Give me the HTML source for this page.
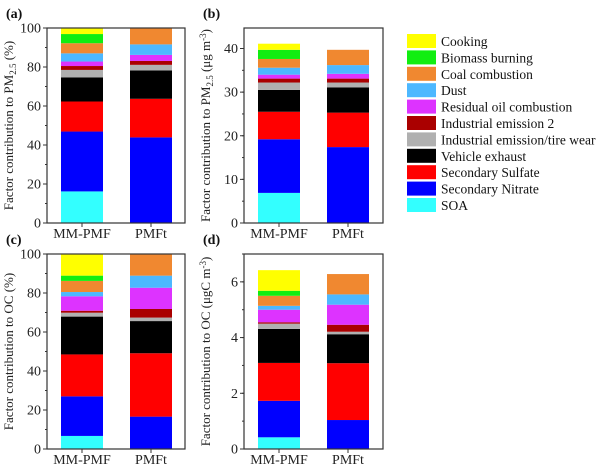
<!DOCTYPE html>
<html><head><meta charset="utf-8"><style>
body{margin:0;background:#fff;}
svg{display:block;font-family:"Liberation Serif",serif;}
</style></head><body>
<svg id="chart" width="600" height="471" xmlns="http://www.w3.org/2000/svg"></svg>
<script>
const categories = ["MM-PMF","PMFt"];
const factors = ["SOA","Secondary Nitrate","Secondary Sulfate","Vehicle exhaust","Industrial emission/tire wear","Industrial emission 2","Residual oil combustion","Dust","Coal combustion","Biomass burning","Cooking"];
const colors = ["#33ffff","#0000ff","#ff0000","#000000","#b0b0b0","#aa0000","#dd33ff","#4db8ff","#f08830","#11ee11","#ffff00"];
const aMM = [16.2,30.7,15.4,12.4,3.8,2.0,2.3,4.2,5.2,4.7,3.1];
const aPMFt = [0,43.9,19.8,14.5,2.9,2.0,3.1,5.4,8.4,0,0];
const bMM = [6.9,12.3,6.3,5.0,1.7,0.9,0.9,1.6,2.0,2.1,1.4];
const bPMFt = [0,17.4,7.9,5.8,1.1,0.9,1.1,2.0,3.5,0,0];
const cMM = [6.7,20.3,21.5,19.4,2.0,1.0,7.4,2.2,5.7,2.7,11.1];
const cPMFt = [0,16.6,32.5,16.5,1.8,4.4,10.9,6.2,11.1,0,0];
const dMM = [0.42,1.31,1.36,1.22,0.19,0.05,0.45,0.14,0.36,0.18,0.74];
const dPMFt = [0,1.04,2.04,1.04,0.09,0.25,0.72,0.37,0.73,0,0];
const ticksA = [0,20,40,60,80,100];
const ticksB = [0,10,20,30,40];
const ticksD = [0,2,4,6];

const NS="http://www.w3.org/2000/svg";
const svg=document.getElementById('chart');
function mk(tag,attrs,parent){const e=document.createElementNS(NS,tag);for(const k in attrs)e.setAttribute(k,attrs[k]);(parent||svg).appendChild(e);return e;}

function panel(id,label,x0,x1,yTop,yBot,ymax,ticks,minorStep,series,titleHTML){
  const g=mk('g',{});
  
  
  const y=v=>yBot-(v/ymax)*(yBot-yTop);
  const bx=[x0+14,x0+83], bw=42;
  series.forEach((vals,ci)=>{
    let acc=0;
    vals.forEach((v,fi)=>{
      if(v<=0)return;
      const r=mk('rect',{x:bx[ci],y:y(acc+v),width:bw,height:y(acc)-y(acc+v),fill:colors[fi]},g);
      
      
      acc+=v;
    });
  });
  const fr=mk('rect',{x:x0,y:yTop,width:x1-x0,height:yBot-yTop,fill:'none',stroke:'#333','stroke-width':1.2},g);
  
  
  for(let v=0;v<=ymax+1e-9;v+=minorStep){mk('line',{x1:x0-2,x2:x0,y1:y(v),y2:y(v),stroke:'#333'},g);}
  ticks.forEach(t=>{
    mk('line',{x1:x0-4,x2:x0,y1:y(t),y2:y(t),stroke:'#333'},g);
    const tx=mk('text',{x:x0-6,y:y(t)+4.5,'text-anchor':'end','font-size':14,fill:'#222'},g);
    tx.textContent=t;
    
    
  });
  categories.forEach((c,ci)=>{
    const cx=bx[ci]+bw/2;
    mk('line',{x1:cx,x2:cx,y1:yBot,y2:yBot+4,stroke:'#333'},g);
    const tx=mk('text',{x:cx,y:yBot+15,'text-anchor':'middle','font-size':14,fill:'#222'},g);
    tx.textContent=c;
    
    
  });
  const t=mk('text',{transform:`translate(${x0-34},${(yTop+yBot)/2}) rotate(-90)`,'text-anchor':'middle','font-size':13,fill:'#222'},g);
  t.innerHTML=titleHTML;
  
  
  const pl=mk('text',{x:x0-41,y:yTop-10,'font-size':14,'font-weight':'bold',fill:'#111'},g);
  pl.textContent=label;
  
  
}
panel('a','(a)',47,185,28,223,100,ticksA,10,[aMM,aPMFt],'Factor contribution to PM<tspan dy="3" font-size="9">2.5</tspan><tspan dy="-3"> (%)</tspan>');
panel('b','(b)',244,383,28,223,44.7,ticksB,5,[bMM,bPMFt],'Factor contribution to PM<tspan dy="3" font-size="9">2.5</tspan><tspan dy="-3"> (μg m</tspan><tspan dy="-4" font-size="9">-3</tspan><tspan dy="4">)</tspan>');
panel('c','(c)',47,185,254,449,100,ticksA,10,[cMM,cPMFt],'Factor contribution to OC (%)');
panel('d','(d)',244,383,254,449,7,ticksD,1,[dMM,dPMFt],'Factor contribution to OC (μgC m<tspan dy="-4" font-size="9">-3</tspan><tspan dy="4">)</tspan>');

const lg=mk('g',{});


for(let i=factors.length-1,k=0;i>=0;i--,k++){
  const yy=34+k*16.4;
  const r=mk('rect',{x:407,y:yy,width:29,height:14,fill:colors[i]},lg);
  
  
  const t=mk('text',{x:441,y:yy+12,'font-size':13.5,fill:'#111'},lg);
  t.textContent=factors[i];
  
  
}
</script>
</body></html>
